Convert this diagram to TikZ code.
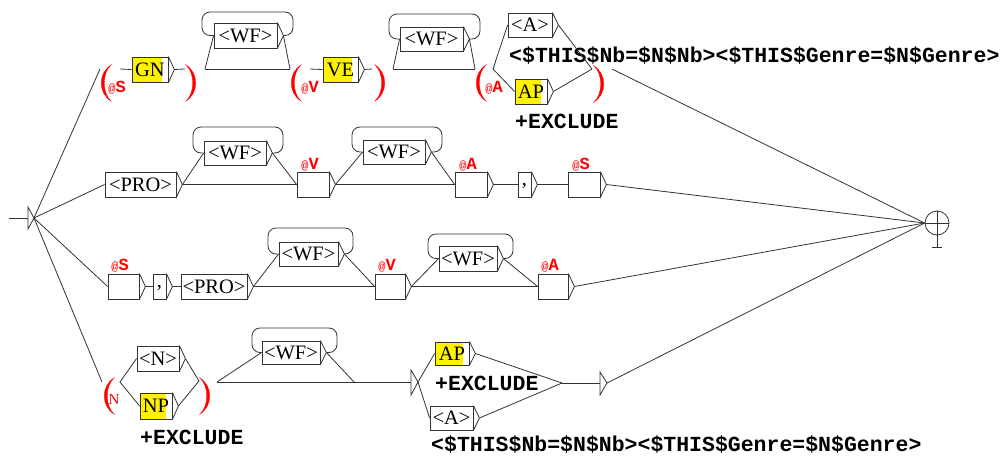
\documentclass[tikz,border=0pt]{standalone}
\usepackage{fontspec}
\setmainfont{Liberation Serif}
\setmonofont{Liberation Mono}
\tikzset{
  ln/.style={draw=black!80, line width=0.8pt},
  ubox/.style={draw=black!80, line width=0.8pt, inner sep=0pt, font=\fontsize{20.5}{20.5}\selectfont},
  outtxt/.style={font=\ttfamily\bfseries\fontsize{21.5}{21.5}\selectfont, inner sep=0pt, anchor=west},
  parenfill/.style={fill=red, draw=red, line width=0.3pt},
  var/.style={text=red, font=\ttfamily\bfseries\fontsize{17}{17}\selectfont, inner sep=0pt},
}
\newcommand\UB[6]{%
  \node[ubox, minimum width={#4-#2}, minimum height={#5-#3}] (#1) at ({(#2+#4)/2},{(#3+#5)/2}) {#6};
  \draw[ln] (#1.north east) -- ([xshift=6pt]#1.east) coordinate (#1o) -- (#1.south east);
}
\newcommand\YF[4]{\fill[yellow] (#1,#2) rectangle (#3,#4);}
\newcommand\UL[5]{%
  \draw[ln, rounded corners=8pt] (#1o) -- (#3,#5) -- (#3,#4) -- (#2,#4) -- (#2,#5) -- (#1.west);
}
% red opening / closing parenthesis: left x, top y
\newcommand\LP[2]{%
  \path[parenfill] ({#1+11},#2) .. controls ({#1-2},{#2+8}) and ({#1-2},{#2+28}) .. ({#1+11},{#2+36})
    .. controls ({#1+2},{#2+28}) and ({#1+2},{#2+8}) .. ({#1+11},#2) -- cycle;}
\newcommand\RP[2]{%
  \path[parenfill] (#1,#2) .. controls ({#1+13},{#2+8}) and ({#1+13},{#2+28}) .. (#1,{#2+36})
    .. controls ({#1+9},{#2+28}) and ({#1+9},{#2+8}) .. (#1,#2) -- cycle;}
\newcommand\atsign{{\fontseries{m}\fontsize{12}{12}\selectfont @}}
\begin{document}
\begin{tikzpicture}[x=1pt,y=-1pt]
\useasboundingbox (0,0) rectangle (1003,461);
% initial state
\draw[ln] (9,218) -- (28,218);
\draw[ln] (28,207) -- (34,218) -- (28,229) -- cycle;
\coordinate (init) at (34,218);
% final state
\node[ln, circle, minimum size=24pt, inner sep=0pt] (fin) at (937,223) {};
\draw[ln] (fin.west) -- (fin.east) (fin.north) -- (fin.south) -- (937,247);
\draw[ln] (932,247) -- (942,247);

% ---------- row 1 ----------
\coordinate (p1i) at (100,69); \coordinate (p1o) at (120,69);
\coordinate (q1i) at (185,69); \coordinate (q1o) at (205,69);
\coordinate (p2i) at (290,69); \coordinate (p2o) at (310,69);
\coordinate (q2i) at (372,69); \coordinate (q2o) at (393,69);
\coordinate (p3i) at (475,69); \coordinate (p3o) at (493,69);
\coordinate (q3i) at (592,69); \coordinate (q3o) at (612,69);
\LP{100}{65} \RP{186}{65}
\LP{290}{65} \RP{375}{65}
\LP{475}{65} \RP{594}{66}
\node[var] (vS1) at (117,88) {\atsign S};
\node[var] (vV1) at (310,88) {\atsign V};
\node[var] (vA1) at (494,88) {\atsign A};
\YF{132}{57}{162}{82}
\UB{gn}{132}{57}{168}{82}{GN}
\UB{wfa}{214}{23}{277}{48}{<WF>}
\UL{wfa}{202}{293}{12}{35.5}
\YF{323}{57}{352}{82}
\UB{ve}{323}{57}{358}{82}{VE}
\UB{wfb}{400}{27}{463}{51}{<WF>}
\UL{wfb}{389}{480}{14}{39}
\UB{aa}{508}{13}{552}{37}{<A>}
\YF{515}{79}{541}{104}
\UB{ap}{515}{79}{547}{104}{AP}
\node[outtxt] (o1) at (509,55.5) {<\$THIS\$Nb=\$N\$Nb><\$THIS\$Genre=\$N\$Genre>};
\node[outtxt] (x1) at (515,121.5) {+EXCLUDE};
\draw[ln] (init) -- (p1i);
\draw[ln] (p1o) -- (gn.west);
\draw[ln] (gno) -- (q1i);
\draw[ln] (q1o) -- (wfa.west);
\draw[ln] (wfao) -- (p2i);
\draw[ln] (q1o) -- (p2i);
\draw[ln] (p2o) -- (ve.west);
\draw[ln] (veo) -- (q2i);
\draw[ln] (q2o) -- (wfb.west);
\draw[ln] (wfbo) -- (p3i);
\draw[ln] (q2o) -- (p3i);
\draw[ln] (p3o) -- (aa.west);
\draw[ln] (p3o) -- (ap.west);
\draw[ln] (aao) -- (q3i);
\draw[ln] (apo) -- (q3i);
\draw[ln] (q3o) -- (fin.west);

% ---------- row 2 ----------
\UB{proa}{105}{172}{176}{197}{<PRO>}
\UB{wfc}{204}{141}{266}{165}{<WF>}
\UL{wfc}{193}{283}{127}{153}
\UB{va}{297}{172}{329}{197}{}
\UB{wfd}{363}{140}{425}{164}{<WF>}
\UL{wfd}{352}{442}{127}{152}
\UB{aaa}{455}{172}{487}{197}{}
\UB{cma}{518}{172}{531}{197}{\raisebox{-6pt}{,}}
\UB{sa}{568}{172}{600}{197}{}
\node[var] (vV2) at (310,165) {\atsign V};
\node[var] (vA2) at (468,165) {\atsign A};
\node[var] (vS2) at (581,165) {\atsign S};
\draw[ln] (init) -- (proa.west);
\draw[ln] (proao) -- (wfc.west);
\draw[ln] (wfco) -- (va.west);
\draw[ln] (proao) -- (va.west);
\draw[ln] (vao) -- (wfd.west);
\draw[ln] (wfdo) -- (aaa.west);
\draw[ln] (vao) -- (aaa.west);
\draw[ln] (aaao) -- (cma.west);
\draw[ln] (cmao) -- (sa.west);
\draw[ln] (sao) -- (fin.west);

% ---------- row 3 ----------
\UB{sb}{108}{274}{139}{299}{}
\UB{cmb}{153}{274}{166}{299}{\raisebox{-6pt}{,}}
\UB{prob}{181}{274}{247}{299}{<PRO>}
\UB{wfe}{279}{242}{338}{266}{<WF>}
\UL{wfe}{268}{353}{228}{254}
\UB{vb}{375}{274}{405}{299}{}
\UB{wff}{439}{246}{497}{271}{<WF>}
\UL{wff}{428}{513}{234}{258.5}
\UB{ab}{538}{274}{568}{299}{}
\node[var] (vS3) at (120,266) {\atsign S};
\node[var] (vV3) at (387,266) {\atsign V};
\node[var] (vA3) at (550,266) {\atsign A};
\draw[ln] (init) -- (sb.west);
\draw[ln] (sbo) -- (cmb.west);
\draw[ln] (cmbo) -- (prob.west);
\draw[ln] (probo) -- (wfe.west);
\draw[ln] (wfeo) -- (vb.west);
\draw[ln] (probo) -- (vb.west);
\draw[ln] (vbo) -- (wff.west);
\draw[ln] (wffo) -- (ab.west);
\draw[ln] (vbo) -- (ab.west);
\draw[ln] (abo) -- (fin.west);

% ---------- row 4 ----------
\coordinate (r4pi) at (102,382); \coordinate (r4po) at (120,382);
\coordinate (r4qi) at (199,381); \coordinate (r4qo) at (217,382);
\coordinate (r4m) at (354,382);
\coordinate (t1i) at (411,382); \coordinate (t1o) at (418,382);
\coordinate (j1) at (562,383);
\coordinate (t2i) at (600,383); \coordinate (t2o) at (607,383);
\LP{103}{378} \RP{200}{378}
\node[var, font=\fontsize{15}{15}\selectfont] (vN4) at (114,400) {N};
\UB{nn}{137}{346}{179}{371}{<N>}
\YF{140}{393}{166}{419}
\UB{np}{140}{393}{172}{419}{NP}
\UB{wfg}{262}{341}{320}{364}{<WF>}
\UL{wfg}{252}{337}{328}{352.5}
\draw[ln] (411,370) -- (t1o) -- (411,395) -- cycle;
\YF{435}{342}{463}{365}
\UB{apb}{435}{342}{469}{365}{AP}
\UB{ac}{430}{406}{473}{430}{<A>}
\draw[ln] (600,372) -- (t2o) -- (600,395) -- cycle;
\node[outtxt] (x2) at (140,437) {+EXCLUDE};
\node[outtxt] (x3) at (435,383.5) {+EXCLUDE};
\node[outtxt] (o2) at (431,445) {<\$THIS\$Nb=\$N\$Nb><\$THIS\$Genre=\$N\$Genre>};
\draw[ln] (init) -- (r4pi);
\draw[ln] (r4po) -- (nn.west);
\draw[ln] (r4po) -- (np.west);
\draw[ln] (nno) -- (r4qi);
\draw[ln] (npo) -- (r4qi);
\draw[ln] (r4qo) -- (wfg.west);
\draw[ln] (wfgo) -- (r4m);
\draw[ln] (r4qo) -- (t1i);
\draw[ln] (t1o) -- (apb.west);
\draw[ln] (t1o) -- (ac.west);
\draw[ln] (apbo) -- (j1);
\draw[ln] (aco) -- (j1);
\draw[ln] (j1) -- (t2i);
\draw[ln] (t2o) -- (fin.west);
\end{tikzpicture}
\end{document}
